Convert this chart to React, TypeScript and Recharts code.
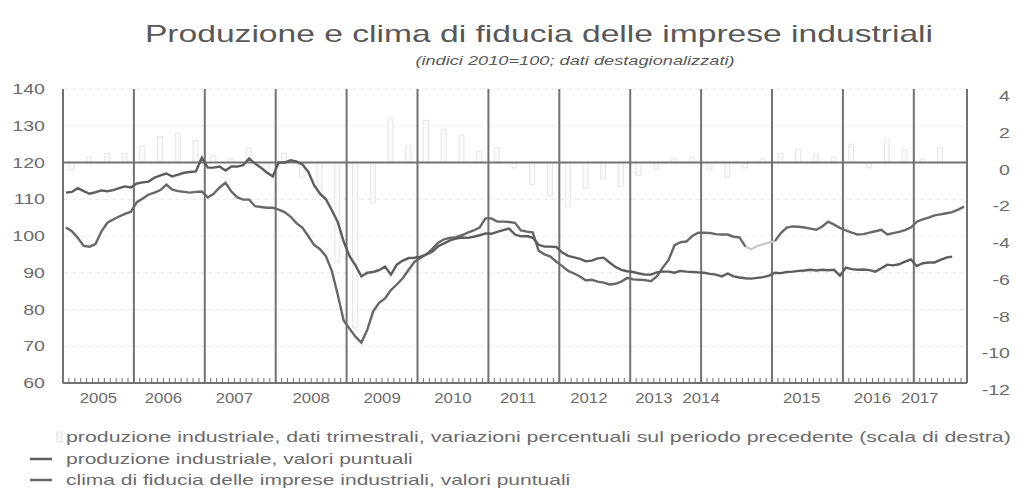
import React from 'react';
import { ComposedChart, Line, Bar, XAxis, YAxis, CartesianGrid, ReferenceLine } from 'recharts';

// ---------- data ----------
const yearLabels = ['2005', '2006', '2007', '2008', '2009', '2010', '2011', '2012', '2013', '2014', '2015', '2016', '2017'];

// produzione industriale, valori puntuali (monthly, Jan 2005 - Jul 2017)
const industrialProduction = [
  111.8, 112.0, 113.0, 112.2, 111.5, 111.9, 112.4, 112.2, 112.5, 113.0, 113.5, 113.2,
  114.3, 114.6, 114.8, 115.9, 116.5, 117.0, 116.2, 116.7, 117.2, 117.4, 117.6, 121.3,
  118.6, 118.6, 118.9, 117.8, 118.9, 118.9, 119.3, 121.1, 119.7, 118.6, 117.3, 116.2,
  120.0, 120.0, 120.6, 120.3, 119.5, 117.5, 113.8, 111.5, 110.0, 107.0, 103.8, 98.5,
  94.5, 92.0, 89.0, 90.0, 90.2, 90.7, 91.7, 89.5, 92.2, 93.3, 94.0, 94.1,
  94.4, 95.0, 95.7, 97.2, 98.0, 98.8, 99.3, 99.6, 99.5, 99.8, 100.2, 100.7,
  100.6, 101.1, 101.6, 102.0, 100.4, 99.9, 100.0, 99.5, 97.6, 97.1, 97.1, 97.0,
  95.5, 94.6, 94.2, 93.8, 93.1, 93.3, 93.9, 94.1, 92.8, 91.6, 90.8, 90.4,
  90.2, 89.8, 89.5, 89.5, 90.1, 90.3, 90.3, 90.0, 90.5, 90.3, 90.2, 90.1,
  90.0, 89.7, 89.5, 89.0, 89.8, 89.0, 88.7, 88.5, 88.4, 88.6, 88.8, 89.2,
  90.0, 89.9, 90.2, 90.3, 90.5, 90.6, 90.8, 90.6, 90.8, 90.7, 90.8, 89.2,
  91.4, 91.0, 90.8, 90.9, 90.7, 90.3, 91.2, 92.2, 92.0, 92.3, 93.0, 93.6,
  91.8, 92.6, 92.8, 92.8, 93.5, 94.1, 94.4,
];

// clima di fiducia delle imprese industriali, valori puntuali (monthly, Jan 2005 - Sep 2017)
const businessConfidence = [
  102.3, 101.3, 99.5, 97.3, 97.1, 97.8, 101.2, 103.6, 104.5, 105.3, 106.0, 106.6,
  109.2, 110.2, 111.3, 111.8, 112.5, 114.0, 112.6, 112.2, 112.0, 111.8, 112.0, 112.1,
  110.5, 111.5, 113.2, 114.5, 112.1, 110.5, 109.9, 109.9, 108.1, 107.9, 107.7, 107.7,
  107.2, 106.5, 105.3, 103.5, 102.3, 100.0, 97.6, 96.4, 94.5, 90.5, 84.0, 77.0,
  74.8, 72.6, 71.0, 74.5, 79.5, 81.8, 83.0, 85.3, 86.8, 88.5, 90.8, 93.0,
  94.0, 95.0, 96.5, 98.2, 99.1, 99.5, 99.7, 100.2, 100.9, 101.5, 102.3, 104.8,
  104.8, 103.9, 103.9, 103.8, 103.6, 101.5, 101.2, 101.0, 96.0, 95.0, 94.4, 93.0,
  91.8, 90.5, 89.8, 89.0, 87.9, 88.1, 87.6, 87.3, 86.8, 87.0, 87.6, 88.6,
  88.2, 88.1, 88.0, 87.7, 89.0, 91.4, 93.5, 97.5, 98.3, 98.5, 100.0, 100.9,
  100.9, 100.8, 100.5, 100.4, 100.4, 99.8, 99.6, 97.1, 96.4, 97.3, 97.8, 98.2,
  98.6, 100.8, 102.3, 102.6, 102.5, 102.3, 102.0, 101.7, 102.6, 103.9, 103.1, 102.2,
  101.5, 100.9, 100.4, 100.5, 100.9, 101.3, 101.7, 100.4, 100.8, 101.1, 101.6, 102.3,
  103.9, 104.5, 105.0, 105.6, 105.9, 106.2, 106.5, 107.2, 108.0,
];

// produzione industriale, dati trimestrali, variazioni percentuali (2005Q1 - 2017Q2)
const quarterlyChange = [
  -0.4, 0.3, 0.5, 0.5,
  0.9, 1.4, 1.6, 1.2,
  0.4, 0.2, 0.8, -0.6,
  0.5, -0.8, -1.8, -5.4,
  -9.0, -2.2, 2.4, 0.9,
  2.3, 1.8, 1.5, 0.6,
  0.8, -0.3, -1.2, -1.8,
  -2.4, -1.4, -0.9, -1.3,
  -0.7, -0.4, 0.2, 0.3,
  -0.4, -0.8, -0.3, 0.2,
  0.5, 0.7, 0.4, 0.3,
  1.0, -0.3, 1.3, 0.7,
  0.2, 0.8,
];

const leftTicks = [60, 70, 80, 90, 100, 110, 120, 130, 140];
const rightTicks = [-12, -10, -8, -6, -4, -2, 0, 2, 4];

// ---------- layout / derived ----------
const MONTHS = 153; // Jan 2005 .. Sep 2017
const yearLabelMonths = [6, 17, 29, 42, 54, 66, 77, 89, 100, 108, 125, 137, 145];
const confidenceBreak = [116, 119]; // months where the confidence series is drawn faint
const monthTicks = Array.from({ length: MONTHS + 1 }, (_, i) => i);
const yearBoundaries = Array.from({ length: 12 }, (_, i) => (i + 1) * 12);

const data = Array.from({ length: MONTHS }, (_, m) => {
  const conf = businessConfidence[m] ?? null;
  const inBreak = m >= confidenceBreak[0] && m <= confidenceBreak[1];
  const nearBreak = m >= confidenceBreak[0] - 1 && m <= confidenceBreak[1] + 1;
  return {
    t: m + 0.5,
    ip: industrialProduction[m] ?? null,
    conf: inBreak ? null : conf,
    confFaint: nearBreak ? conf : null,
    qchg: m % 3 === 1 ? quarterlyChange[Math.floor(m / 3)] ?? null : null,
  };
});

const FONT = "'Liberation Sans', Arial, Helvetica, sans-serif";
const STRETCH = 1.4;
const TEXT = '#6c6c6c';
const FRAME = '#727272';
const IP_COLOR = '#5d5d5d';
const CONF_COLOR = '#686868';
const BAR_FILL = '#fbfbfb';
const BAR_STROKE = '#e0e0e0';

const SText = ({ x, y, anchor, size, stretch = STRETCH, children }: any) => (
  <g transform={`translate(${x},${y})`}>
    <text transform={`scale(${stretch},1)`} textAnchor={anchor} fontSize={size} fontFamily={FONT} fill={TEXT}>
      {children}
    </text>
  </g>
);

const XTick = (props: any) => {
  const { x, y, payload } = props;
  const idx = yearLabelMonths.indexOf(payload.value);
  if (idx < 0) return <g />;
  return <SText x={x} y={y + 25} anchor="middle" size={14} stretch={1.2}>{yearLabels[idx]}</SText>;
};

const LeftTick = (props: any) => {
  const { x, y, payload } = props;
  return <SText x={x} y={y + 5} anchor="end" size={14}>{payload.value}</SText>;
};

const RightTick = (props: any) => {
  const { x, y, payload } = props;
  return <SText x={x + 35} y={y + 12} anchor="end" size={14}>{payload.value}</SText>;
};

const legendItems = [
  { kind: 'bar', stretch: 1.42, label: 'produzione industriale, dati trimestrali, variazioni percentuali sul periodo precedente (scala di destra)' },
  { kind: 'line', color: IP_COLOR, stretch: 1.4, label: 'produzione industriale, valori puntuali' },
  { kind: 'line', color: CONF_COLOR, stretch: 1.4, label: 'clima di fiducia delle imprese industriali, valori puntuali' },
];

const Legend = () => (
  <div style={{ position: 'absolute', left: 0, top: 427, width: 1018 }}>
    {legendItems.map((it, i) => (
      <div key={i} style={{ position: 'absolute', left: 0, top: i * 21.5, height: 20, width: 1018 }}>
        <svg width={66} height={20} style={{ position: 'absolute', left: 0, top: 0 }}>
          {it.kind === 'bar' ? (
            <rect x={57} y={5} width={5} height={10} fill={BAR_FILL} stroke={BAR_STROKE} />
          ) : (
            <line x1={30} x2={52} y1={10} y2={10} stroke={it.color} strokeWidth={2.5} />
          )}
        </svg>
        <div
          style={{
            position: 'absolute',
            left: 66,
            top: 1,
            fontFamily: FONT,
            fontSize: 15,
            lineHeight: '18px',
            color: TEXT,
            whiteSpace: 'nowrap',
            transform: `scaleX(${it.stretch})`,
            transformOrigin: 'left center',
          }}
        >
          {it.label}
        </div>
      </div>
    ))}
  </div>
);

export default function App() {
  return (
    <div style={{ position: 'absolute', left: 0, top: 0, width: 1018, height: 495, background: '#fff', overflow: 'hidden' }}>
      <div
        style={{
          position: 'absolute', left: 30, top: 22, width: 1018, textAlign: 'center',
          fontFamily: FONT, fontSize: 24, lineHeight: '24px', color: '#585858', whiteSpace: 'nowrap',
          transform: `scaleX(${STRETCH})`, transformOrigin: 'center center',
        }}
      >
        Produzione e clima di fiducia delle imprese industriali
      </div>
      <div
        style={{
          position: 'absolute', left: 66, top: 54, width: 1018, textAlign: 'center',
          fontFamily: FONT, fontSize: 13, lineHeight: '13px', fontStyle: 'italic', color: '#5a5a5a', whiteSpace: 'nowrap',
          transform: `scaleX(${STRETCH})`, transformOrigin: 'center center',
        }}
      >
        (indici 2010=100; dati destagionalizzati)
      </div>
      <div style={{ position: 'absolute', left: 0, top: 0 }}>
        <ComposedChart width={1018} height={495} data={data} margin={{ top: 89, right: 6, bottom: 82, left: 8 }}>
          <CartesianGrid xAxisId="x" yAxisId="left" vertical={false} stroke="#e8e8e8" strokeDasharray="5 3" />
          <XAxis
            xAxisId="x"
            type="number"
            dataKey="t"
            domain={[0, MONTHS]}
            ticks={monthTicks}
            interval={0}
            tickSize={-5}
            tickMargin={0}
            tickLine={{ stroke: FRAME, strokeWidth: 1 }}
            axisLine={{ stroke: FRAME, strokeWidth: 2 }}
            tick={<XTick />}
            height={30}
            allowDataOverflow
          />
          <YAxis
            yAxisId="left"
            domain={[60, 140]}
            ticks={leftTicks}
            interval={0}
            tickSize={0}
            tickMargin={18}
            tickLine={false}
            axisLine={{ stroke: FRAME, strokeWidth: 2 }}
            tick={<LeftTick />}
            width={55}
            allowDataOverflow
          />
          <YAxis
            yAxisId="right"
            orientation="right"
            domain={[-12, 4]}
            ticks={rightTicks}
            interval={0}
            tickSize={0}
            tickMargin={8}
            tickLine={false}
            axisLine={{ stroke: FRAME, strokeWidth: 2 }}
            tick={<RightTick />}
            width={45}
            allowDataOverflow
          />
          <Bar xAxisId="x" yAxisId="right" dataKey="qchg" barSize={5} fill={BAR_FILL} stroke={BAR_STROKE} strokeWidth={0.8} isAnimationActive={false} />
          {yearBoundaries.map((b) => (
            <ReferenceLine key={b} xAxisId="x" yAxisId="left" x={b} stroke={FRAME} strokeWidth={2} />
          ))}
          <ReferenceLine xAxisId="x" yAxisId="right" y={0} stroke={FRAME} strokeWidth={2} />
          <Line xAxisId="x" yAxisId="left" dataKey="confFaint" stroke="#c8c8c8" strokeWidth={2.2} dot={false} activeDot={false} isAnimationActive={false} />
          <Line xAxisId="x" yAxisId="left" dataKey="conf" stroke={CONF_COLOR} strokeWidth={2.4} dot={false} activeDot={false} isAnimationActive={false} />
          <Line xAxisId="x" yAxisId="left" dataKey="ip" stroke={IP_COLOR} strokeWidth={2.4} dot={false} activeDot={false} isAnimationActive={false} />
        </ComposedChart>
      </div>
      <Legend />
    </div>
  );
}
